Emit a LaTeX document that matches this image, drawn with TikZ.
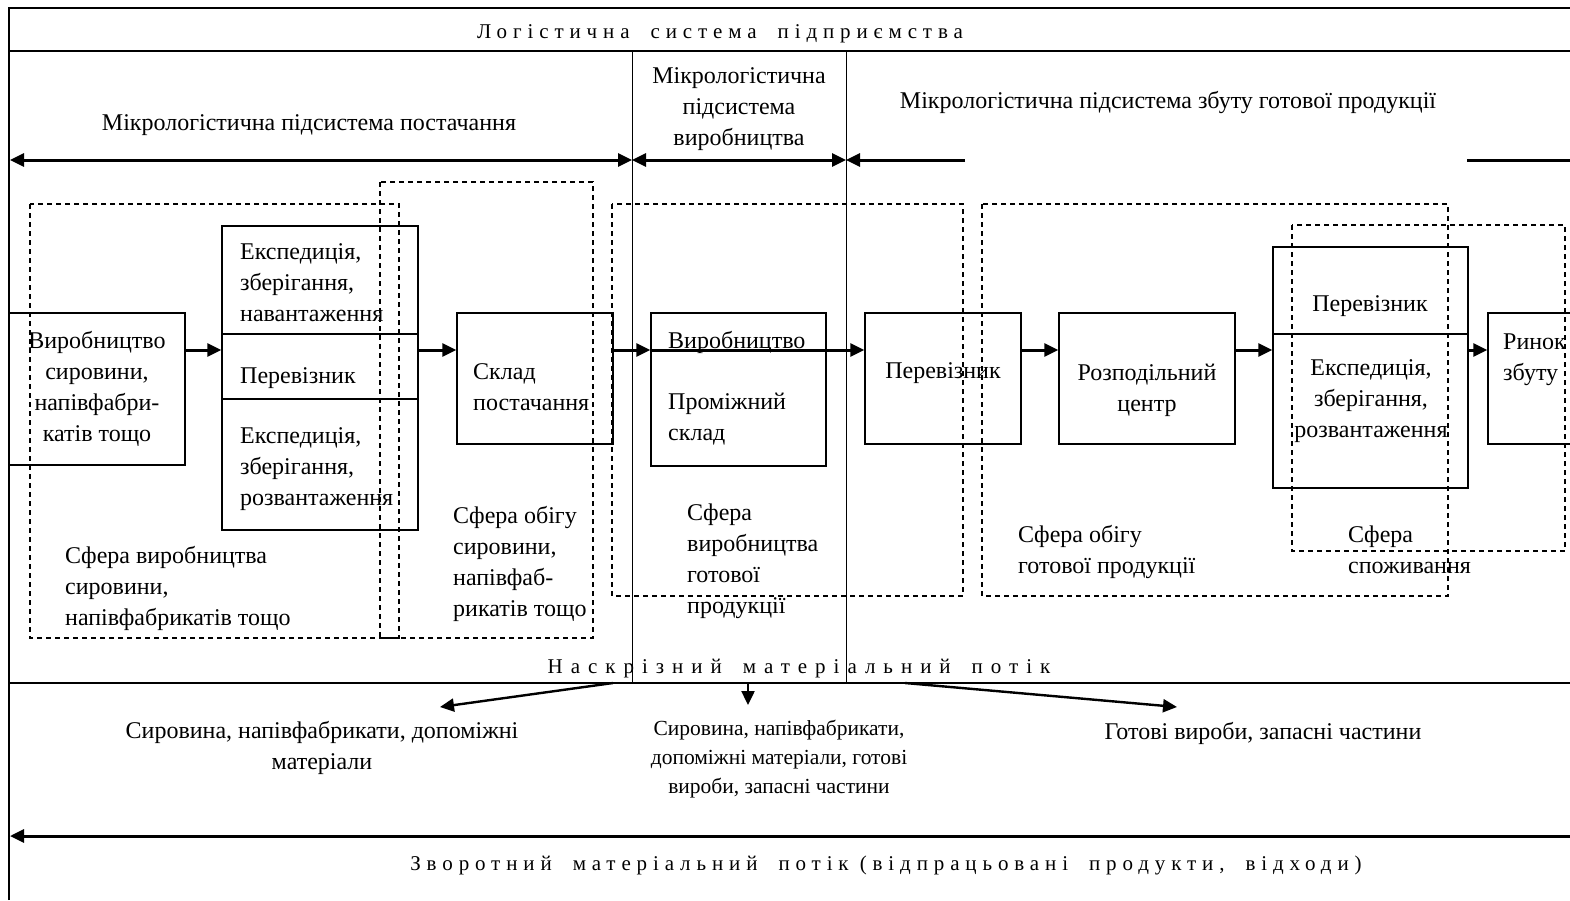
\documentclass[tikz,border=0pt]{standalone}
\usepackage{fontspec}
\setmainfont{Liberation Serif}
\usetikzlibrary{arrows.meta,positioning}

\tikzset{
  blok/.style={draw, line width=1.5pt, inner sep=0pt},
  sfera/.style={draw, dash pattern=on 5pt off 4pt, line width=1.3pt},
  tekst/.style={font=\fontsize{24}{31}\selectfont, inner sep=0pt},
  drib/.style={font=\fontsize{21.5}{29}\selectfont, inner sep=0pt},
  rozr/.style={font=\fontsize{21}{24}\selectfont\addfontfeature{LetterSpace=28}, inner sep=0pt},
  rozrsh/.style={font=\fontsize{21}{24}\selectfont\addfontfeature{LetterSpace=38}, inner sep=0pt},
  potik/.style={line width=3pt, -{Triangle[length=14pt,width=13pt]}},
  dvi/.style={line width=3pt, {Triangle[length=14pt,width=13pt]}-{Triangle[length=14pt,width=13pt]}},
  ramka/.style={line width=1.6pt},
  mezha/.style={line width=1pt}
}

\begin{document}
\begin{tikzpicture}[x=1pt,y=-1pt]
      \useasboundingbox (0,0) rectangle (1570,900);
      \clip (0,0) rectangle (1570,900);

      \draw[ramka] (9,900) -- (9,8) -- (1570,8);
      \draw[ramka] (9,51) -- (1570,51);
      \draw[ramka, line width=2pt] (9,683) -- (1570,683);
      \draw[mezha] (632,51) -- (632,684);
      \draw[mezha] (846,51) -- (846,684);

      \node[rozr, anchor=base] (lsp) at (720,38) {Логістична\quad система\quad підприємства};

      \node[tekst, anchor=base] (mpost) at (309,130) {Мікрологістична підсистема постачання};
      \node[tekst, anchor=base, align=center] (mvyr) at (739,145) {Мікрологістична\\підсистема\\виробництва};
      \node[tekst, anchor=base] (mzb) at (1168,108) {Мікрологістична підсистема збуту готової продукції};

      \draw[dvi] (10,160) -- (632,160);
      \draw[dvi] (632,160) -- (846,160);
      \draw[potik] (965,160) -- (846,160);
      \draw[line width=3pt] (1467,160) -- (1575,160);

      % сфери
      \draw[sfera] (30,204) rectangle (399,638);
      \draw[sfera] (380,182) rectangle (593,638);
      \draw[sfera] (612,204) rectangle (963,596);
      \draw[sfera] (982,204) rectangle (1448,596);
      \draw[sfera] (1292,225) rectangle (1565,551);

      \node[tekst, anchor=base west, align=left] (sf1) at (65,625) {Сфера виробництва\\сировини,\\напівфабрикатів тощо};
      \node[tekst, anchor=base west, align=left] (sf2) at (453,616) {Сфера обігу\\сировини,\\напівфаб-\\рикатів тощо};
      \node[tekst, anchor=base west, align=left] (sf3) at (687,613) {Сфера\\виробництва\\готової\\продукції};
      \node[tekst, anchor=base west, align=left] (sf4) at (1018,573) {Сфера обігу\\готової продукції};
      \node[tekst, anchor=base west, align=left] (sf5) at (1348,573) {Сфера\\споживання};

      % блоки
      \node[blok, minimum width=176pt, minimum height=152pt] (vyrsyr) at (97,389) {};
      \node[blok, minimum width=196pt, minimum height=108pt] (ekspN) at (320,280) {};
      \node[blok, minimum width=196pt, minimum height=65pt] (perev1) at (320,366.5) {};
      \node[blok, minimum width=196pt, minimum height=131pt] (ekspR1) at (320,464.5) {};
      \node[blok, minimum width=156pt, minimum height=131pt] (skladp) at (535,378.5) {};
      \node[blok, minimum width=175pt, minimum height=153pt] (vyrob) at (738.5,389.5) {};
      \node[blok, minimum width=156pt, minimum height=131pt] (perev2) at (943,378.5) {};
      \node[blok, minimum width=176pt, minimum height=131pt] (rozp) at (1147,378.5) {};
      \node[blok, minimum width=195pt, minimum height=87pt] (perev3) at (1370.5,290.5) {};
      \node[blok, minimum width=195pt, minimum height=154pt] (ekspR2) at (1370.5,411) {};
      \node[blok, minimum width=160pt, minimum height=131pt] (rynok) at (1568,378.5) {};

      \node[tekst, anchor=base, align=center] (t1) at (97,441) {Виробництво\\сировини,\\напівфабри-\\катів тощо};
      \node[tekst, anchor=base west, align=left] (t2) at (240,321) {Експедиція,\\зберігання,\\навантаження};
      \node[tekst, anchor=base west] (t3) at (240,383) {Перевізник};
      \node[tekst, anchor=base west, align=left] (t4) at (240,505) {Експедиція,\\зберігання,\\розвантаження};
      \node[tekst, anchor=base west, align=left] (t5) at (473,410) {Склад\\постачання};
      \node[tekst, anchor=base west] (t6) at (668,348) {Виробництво};
      \node[tekst, anchor=base west, align=left] (t7) at (668,440) {Проміжний\\склад};
      \node[tekst, anchor=base] (t8) at (943,378) {Перевізник};
      \node[tekst, anchor=base, align=center] (t9) at (1147,411) {Розподільний\\центр};
      \node[tekst, anchor=base] (t10) at (1370,311) {Перевізник};
      \node[tekst, anchor=base, align=center] (t11) at (1371,437) {Експедиція,\\зберігання,\\розвантаження};
      \node[tekst, anchor=base west, align=left] (t12) at (1503,380) {Ринок\\збуту};

      \coordinate (flow) at (0,350);
      \draw[potik] (vyrsyr.east |- flow) -- (ekspN.west |- flow);
      \draw[potik] (perev1.east |- flow) -- (skladp.west |- flow);
      \draw[potik] (skladp.east |- flow) -- (vyrob.west |- flow);
      \draw[potik] (vyrob.west |- flow) -- (perev2.west |- flow);
      \draw[potik] (perev2.east |- flow) -- (rozp.west |- flow);
      \draw[potik] (rozp.east |- flow) -- (ekspR2.west |- flow);
      \draw[potik] (ekspR2.east |- flow) -- (rynok.west |- flow);

      % наскрізний потік
      \node[rozrsh, anchor=base] (nask) at (799,673) {Наскрізний\quad матеріальний\quad потік};
      \coordinate (v1) at (613,683);
      \coordinate (v2) at (748,683);
      \coordinate (v3) at (905,683);
      \coordinate (k1) at (440,707);
      \coordinate (k2) at (748,705);
      \coordinate (k3) at (1177,707);
      \draw[potik, line width=2.4pt] (v1) -- (k1);
      \draw[potik, line width=2.4pt] (v2) -- (k2);
      \draw[potik, line width=2.4pt] (v3) -- (k3);

      \node[tekst, anchor=base, align=center] (b1) at (322,769) {Сировина, напівфабрикати, допоміжні\\матеріали};
      \node[drib, anchor=base, align=center] (b2) at (779,793) {Сировина, напівфабрикати,\\допоміжні матеріали, готові\\вироби, запасні частини};
      \node[tekst, anchor=base] (b3) at (1263,739) {Готові вироби, запасні частини};

      % зворотний потік
      \coordinate (z1) at (1575,836);
      \coordinate (z2) at (10,836);
      \draw[potik] (z1) -- (z2);
      \node[rozr, anchor=base] (zvor) at (886,870) {Зворотний\quad матеріальний\quad потік (відпрацьовані\quad продукти,\quad відходи)};
\end{tikzpicture}
\end{document}
